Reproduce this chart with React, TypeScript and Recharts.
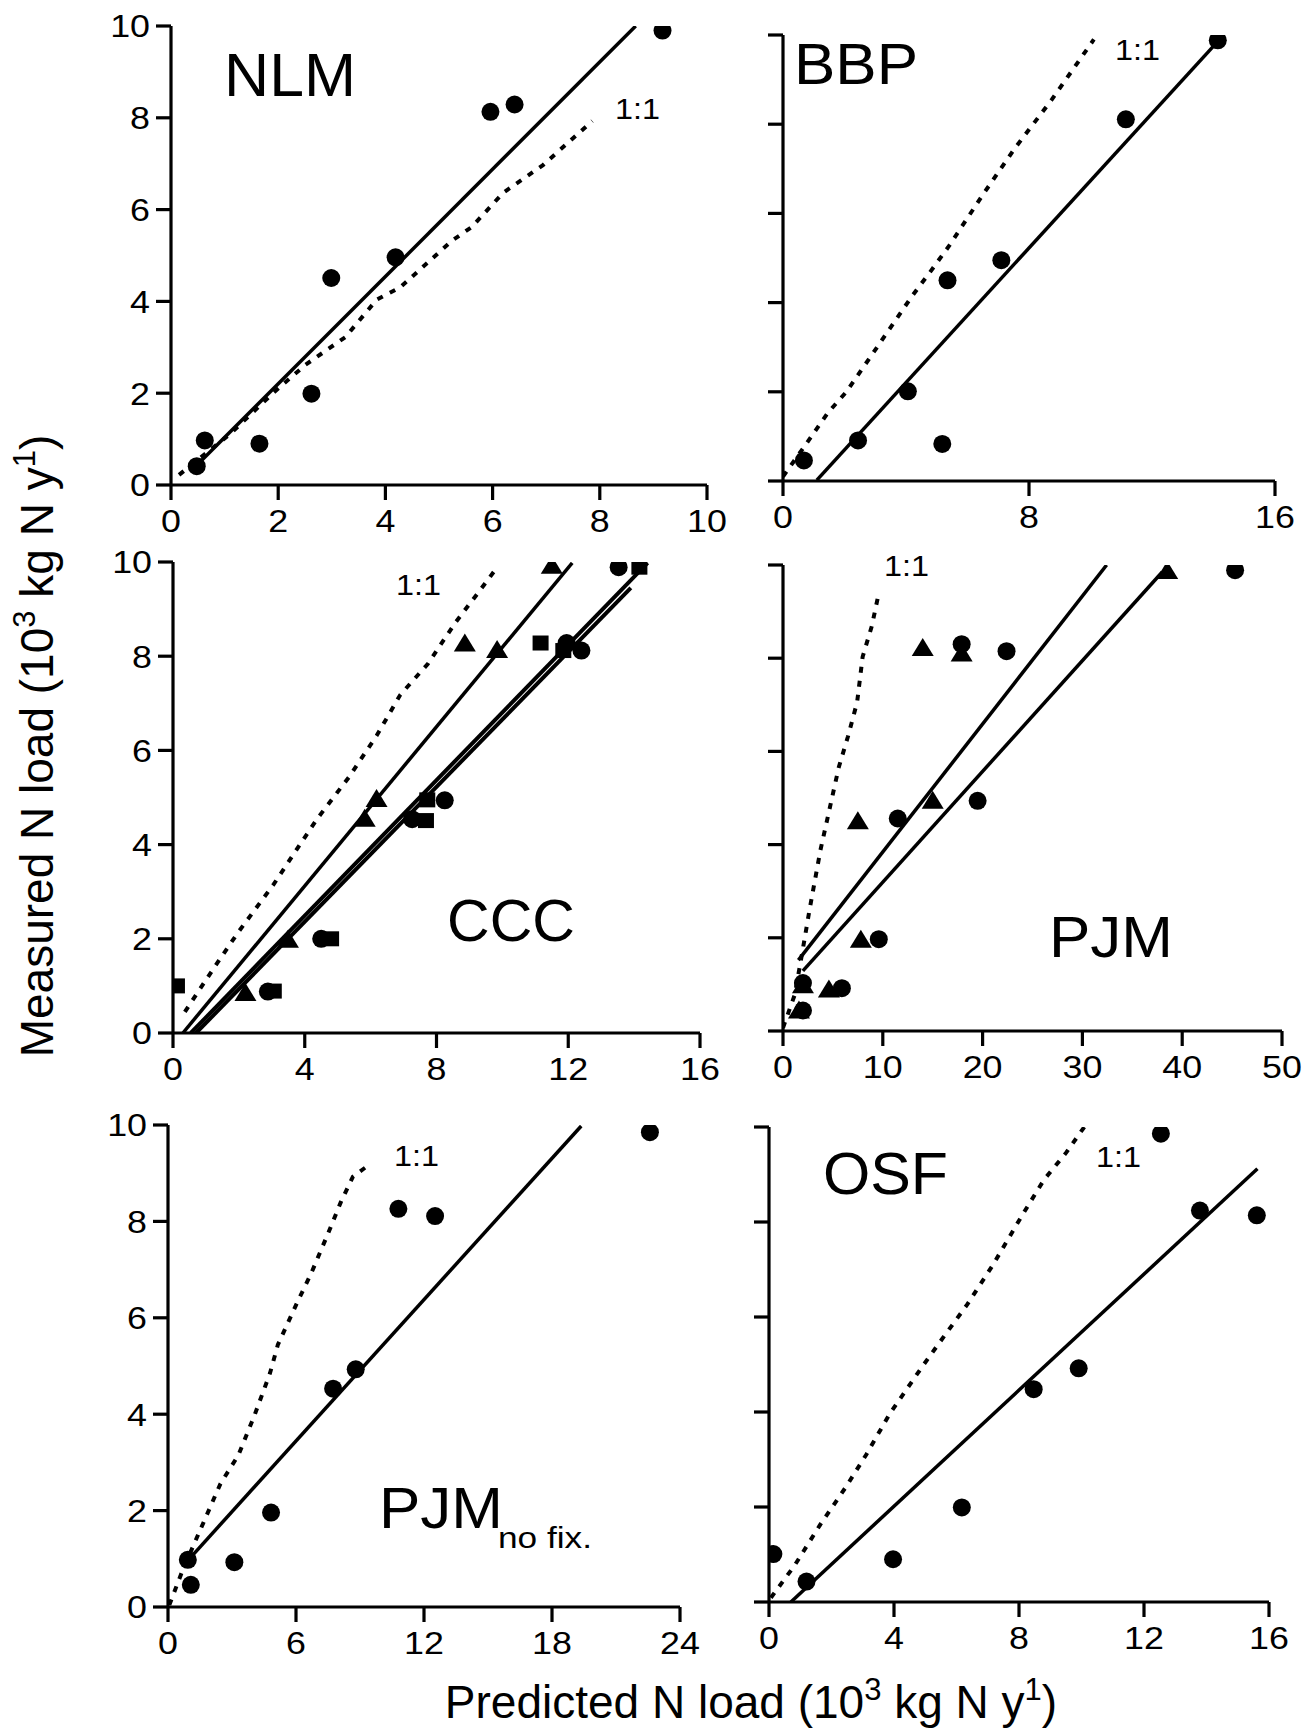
import React from "react";
import { ScatterChart, Scatter, XAxis, YAxis } from "recharts";

type Pt = { x: number; y: number };

const FONT = '"Liberation Sans", Arial, Helvetica, sans-serif';
const INK = "#000";

// ---- NLM ----
const nlmPredicted = [0.48, 0.63, 1.65, 2.62, 2.99, 4.19, 5.96, 6.41, 9.17];
const nlmMeasured = [0.41, 0.97, 0.9, 1.99, 4.51, 4.96, 8.13, 8.29, 9.9];
const nlmFitX = [0.5, 8.67];
const nlmFitY = [0.45, 10.0];
const nlmOneX = [0.15, 1.11, 1.92, 2.51, 3.25, 3.84, 4.28, 5.24, 5.61, 6.2, 6.94, 7.86];
const nlmOneY = [0.22, 1.12, 2.02, 2.62, 3.22, 4.04, 4.31, 5.32, 5.62, 6.37, 6.97, 7.93];

// ---- BBP ----
const bbpPredicted = [0.68, 2.44, 4.06, 5.18, 5.35, 7.1, 11.15, 14.14];
const bbpMeasured = [0.46, 0.91, 2.01, 0.83, 4.5, 4.95, 8.11, 9.88];
const bbpFitX = [1.1, 14.0];
const bbpFitY = [0.02, 9.75];
const bbpOneX = [0, 0.68, 1.46, 2.05, 3.13, 4.2, 4.8, 5.4, 6.47, 7.55, 8.74, 10.11];
const bbpOneY = [0.1, 0.76, 1.53, 1.99, 3.07, 4.15, 4.7, 5.27, 6.39, 7.47, 8.55, 9.9];

// ---- CCC ----
const cccTriX = [2.2, 3.49, 5.82, 6.18, 8.86, 9.84, 11.5];
const cccTriY = [0.85, 1.98, 4.55, 4.97, 8.27, 8.13, 9.92];
const cccDotX = [2.88, 4.5, 7.26, 8.25, 11.95, 12.4, 13.53];
const cccDotY = [0.88, 2.0, 4.54, 4.94, 8.28, 8.12, 9.89];
const cccSqX = [0.12, 3.06, 4.8, 7.68, 7.72, 11.16, 11.85, 14.16];
const cccSqY = [1.0, 0.89, 2.0, 4.51, 4.95, 8.28, 8.12, 9.89];
const cccTriFitX = [0.3, 12.12];
const cccTriFitY = [0, 9.98];
const cccFitAX = [0.54, 14.41];
const cccFitAY = [0, 9.98];
const cccFitBX = [0.7, 13.9];
const cccFitBY = [0, 9.45];
const cccOneX = [0.36, 1.26, 1.98, 3.06, 3.54, 4.38, 5.34, 6.18, 6.9, 7.74, 8.58, 9.3, 9.78];
const cccOneY = [0.45, 1.4, 2.14, 3.16, 3.67, 4.55, 5.43, 6.31, 7.18, 7.84, 8.72, 9.38, 9.83];

// ---- PJM ----
const pjmTriX = [1.6, 2.0, 4.6, 7.8, 7.5, 15.0, 14.0, 17.9, 38.5];
const pjmTriY = [0.44, 0.98, 0.89, 1.96, 4.5, 4.94, 8.22, 8.1, 9.87];
const pjmDotX = [2.0, 2.0, 5.9, 9.6, 11.5, 19.5, 17.9, 22.4, 45.3];
const pjmDotY = [0.44, 1.03, 0.92, 1.97, 4.56, 4.94, 8.3, 8.15, 9.89];
const pjmFit1X = [1.54, 32.43];
const pjmFit1Y = [1.52, 10.0];
const pjmFit2X = [1.99, 38.0];
const pjmFit2Y = [1.29, 9.85];
const pjmOneX = [0, 1.18, 1.91, 2.65, 3.75, 4.67, 5.59, 6.51, 7.43, 7.98, 8.9, 9.63];
const pjmOneY = [0.07, 0.78, 1.66, 2.59, 3.88, 4.77, 5.66, 6.32, 7.06, 8.03, 8.69, 9.43];

// ---- PJM no fix. ----
const pnfPredicted = [0.93, 1.07, 3.11, 4.83, 7.74, 8.8, 10.8, 12.52, 22.59];
const pnfMeasured = [0.98, 0.46, 0.93, 1.96, 4.53, 4.93, 8.26, 8.11, 9.85];
const pnfFitX = [1.0, 19.37];
const pnfFitY = [1.0, 9.98];
const pnfOneX = [0.06, 0.7, 1.72, 2.46, 3.3, 4.04, 4.78, 5.15, 6.07, 6.72, 7.56, 8.11, 8.67, 9.35];
const pnfOneY = [0.04, 0.78, 1.81, 2.56, 3.15, 3.96, 4.85, 5.44, 6.33, 6.93, 7.81, 8.41, 8.93, 9.15];

// ---- OSF ----
const osfPredicted = [0.14, 1.2, 3.97, 6.17, 8.47, 9.91, 12.54, 13.79, 15.61];
const osfMeasured = [1.01, 0.43, 0.9, 1.99, 4.48, 4.92, 9.86, 8.24, 8.14];
const osfFitX = [0.7, 15.63];
const osfFitY = [0, 9.12];
const osfOneX = [0.06, 0.82, 1.64, 2.46, 3.11, 3.87, 4.93, 5.63, 6.34, 7.16, 8.1, 8.8, 9.51, 10.09];
const osfOneY = [0.09, 0.77, 1.63, 2.42, 3.1, 3.97, 4.98, 5.62, 6.26, 7.09, 8.14, 8.89, 9.46, 10.0];

// ---- ticks ----
const yTicks = [0, 2, 4, 6, 8, 10];
const nlmXTicks = [0, 2, 4, 6, 8, 10];
const bbpXTicks = [0, 8, 16];
const cccXTicks = [0, 4, 8, 12, 16];
const pjmXTicks = [0, 10, 20, 30, 40, 50];
const pnfXTicks = [0, 6, 12, 18, 24];
const osfXTicks = [0, 4, 8, 12, 16];

const zip = (xs: number[], ys: number[]): Pt[] => xs.map((x, i) => ({ x, y: ys[i] }));

type Kind = "dot" | "tri" | "sq" | "fit" | "thick" | "one";
type Series = { kind: Kind; data: Pt[] };

const Dot = (p: any) => <circle cx={p.cx} cy={p.cy} r={9} fill={INK} />;
const Tri = (p: any) => (
  <polygon
    points={`${p.cx},${p.cy - 10} ${p.cx - 11},${p.cy + 8} ${p.cx + 11},${p.cy + 8}`}
    fill={INK}
  />
);
const Sq = (p: any) => <rect x={p.cx - 8} y={p.cy - 7.5} width={16} height={15} fill={INK} />;
const Nothing = () => <g />;

function XTick({ x, y, payload }: any) {
  return (
    <text
      transform={`translate(${x},${y}) scale(1.12,1)`}
      textAnchor="middle"
      dy="0.71em"
      fontSize={32}
      fontFamily={FONT}
      fill={INK}
    >
      {payload.value}
    </text>
  );
}

function YTick({ x, y, payload }: any) {
  return (
    <text
      transform={`translate(${x},${y}) scale(1.12,1)`}
      textAnchor="end"
      dy="0.355em"
      fontSize={32}
      fontFamily={FONT}
      fill={INK}
    >
      {payload.value}
    </text>
  );
}

interface PanelProps {
  x0: number;
  x1: number;
  y0: number;
  y1: number;
  xMax: number;
  xTicks: number[];
  yLabels: boolean;
  series: Series[];
}

const YW = 90;
const MT = 30;
const MR = 40;
const XH = 60;

function Panel({ x0, x1, y0, y1, xMax, xTicks, yLabels, series }: PanelProps) {
  const w = x1 - x0 + YW + MR;
  const h = y1 - y0 + MT + XH;
  return (
    <div style={{ position: "absolute", left: x0 - YW, top: y0 - MT, width: w, height: h }}>
      <ScatterChart width={w} height={h} margin={{ top: MT, right: MR, bottom: 0, left: 0 }}>
        <XAxis
          type="number"
          dataKey="x"
          domain={[0, xMax]}
          ticks={xTicks}
          interval={0}
          allowDataOverflow
          height={XH}
          tickSize={15}
          tickMargin={9}
          axisLine={{ stroke: INK, strokeWidth: 3.2 }}
          tickLine={{ stroke: INK, strokeWidth: 3.2 }}
          tick={<XTick />}
        />
        <YAxis
          type="number"
          dataKey="y"
          domain={[0, 10]}
          ticks={yTicks}
          interval={0}
          allowDataOverflow
          width={YW}
          tickSize={15}
          tickMargin={6}
          axisLine={{ stroke: INK, strokeWidth: 3.2 }}
          tickLine={{ stroke: INK, strokeWidth: 3.2 }}
          tick={yLabels ? <YTick /> : Nothing}
        />
        {series
          .filter((s) => s.kind === "fit" || s.kind === "thick" || s.kind === "one")
          .map((s, i) => (
            <Scatter
              key={"l" + i}
              data={s.data}
              shape={Nothing}
              line={
                s.kind === "one"
                  ? { stroke: INK, strokeWidth: 4, strokeDasharray: "6 8" }
                  : { stroke: INK, strokeWidth: s.kind === "thick" ? 4 : 3.5 }
              }
              lineType="joint"
              legendType="none"
              isAnimationActive={false}
            />
          ))}
        {series
          .filter((s) => s.kind === "dot" || s.kind === "tri" || s.kind === "sq")
          .map((s, i) => (
            <Scatter
              key={"m" + i}
              data={s.data}
              shape={s.kind === "dot" ? Dot : s.kind === "tri" ? Tri : Sq}
              legendType="none"
              isAnimationActive={false}
            />
          ))}
      </ScatterChart>
    </div>
  );
}

function Overlay() {
  const t = { fontFamily: FONT, fill: INK } as const;
  const one = { fontSize: 30, textLength: 45, lengthAdjust: "spacingAndGlyphs" as const, ...t };
  return (
    <svg
      width={1315}
      height={1729}
      style={{ position: "absolute", left: 0, top: 0, pointerEvents: "none" }}
    >
      <text x={224} y={96} fontSize={61} textLength={132} lengthAdjust="spacingAndGlyphs" {...t}>NLM</text>
      <text x={794} y={84} fontSize={58} textLength={124} lengthAdjust="spacingAndGlyphs" {...t}>BBP</text>
      <text x={447} y={941} fontSize={60} textLength={128} lengthAdjust="spacingAndGlyphs" {...t}>CCC</text>
      <text x={1049} y={957} fontSize={58} textLength={124} lengthAdjust="spacingAndGlyphs" {...t}>PJM</text>
      <text x={379} y={1528} fontSize={58} textLength={124} lengthAdjust="spacingAndGlyphs" {...t}>PJM</text>
      <text x={498} y={1548} fontSize={29} textLength={94} lengthAdjust="spacingAndGlyphs" {...t}>no fix.</text>
      <text x={823} y={1194} fontSize={60} textLength={125} lengthAdjust="spacingAndGlyphs" {...t}>OSF</text>

      <text x={615} y={119} {...one}>1:1</text>
      <text x={1115} y={60} {...one}>1:1</text>
      <text x={396} y={595} {...one}>1:1</text>
      <text x={884} y={576} {...one}>1:1</text>
      <text x={394} y={1166} {...one}>1:1</text>
      <text x={1096} y={1167} {...one}>1:1</text>

      <text
        x={0}
        y={0}
        fontSize={46}
        textAnchor="middle"
        transform="translate(53 746) rotate(-90)"
        {...t}
      >
        Measured N load (10
        <tspan dy={-18} fontSize={31}>3</tspan>
        <tspan dy={18}> kg N y</tspan>
        <tspan dy={-18} fontSize={31}>1</tspan>
        <tspan dy={18}>)</tspan>
      </text>
      <text x={751} y={1718} fontSize={46} textAnchor="middle" {...t}>
        Predicted N load (10
        <tspan dy={-18} fontSize={31}>3</tspan>
        <tspan dy={18}> kg N y</tspan>
        <tspan dy={-18} fontSize={31}>1</tspan>
        <tspan dy={18}>)</tspan>
      </text>
    </svg>
  );
}

export default function App() {
  return (
    <div
      style={{
        position: "absolute",
        left: 0,
        top: 0,
        width: 1315,
        height: 1729,
        background: "#fff",
        overflow: "hidden",
      }}
    >
      <Panel
        x0={171}
        x1={707}
        y0={26}
        y1={485}
        xMax={10}
        xTicks={nlmXTicks}
        yLabels
        series={[
          { kind: "one", data: zip(nlmOneX, nlmOneY) },
          { kind: "fit", data: zip(nlmFitX, nlmFitY) },
          { kind: "dot", data: zip(nlmPredicted, nlmMeasured) },
        ]}
      />
      <Panel
        x0={783}
        x1={1275}
        y0={35}
        y1={481}
        xMax={16}
        xTicks={bbpXTicks}
        yLabels={false}
        series={[
          { kind: "one", data: zip(bbpOneX, bbpOneY) },
          { kind: "fit", data: zip(bbpFitX, bbpFitY) },
          { kind: "dot", data: zip(bbpPredicted, bbpMeasured) },
        ]}
      />
      <Panel
        x0={173}
        x1={700}
        y0={562}
        y1={1033}
        xMax={16}
        xTicks={cccXTicks}
        yLabels
        series={[
          { kind: "one", data: zip(cccOneX, cccOneY) },
          { kind: "fit", data: zip(cccTriFitX, cccTriFitY) },
          { kind: "thick", data: zip(cccFitAX, cccFitAY) },
          { kind: "thick", data: zip(cccFitBX, cccFitBY) },
          { kind: "sq", data: zip(cccSqX, cccSqY) },
          { kind: "dot", data: zip(cccDotX, cccDotY) },
          { kind: "tri", data: zip(cccTriX, cccTriY) },
        ]}
      />
      <Panel
        x0={783}
        x1={1282}
        y0={565}
        y1={1031}
        xMax={50}
        xTicks={pjmXTicks}
        yLabels={false}
        series={[
          { kind: "one", data: zip(pjmOneX, pjmOneY) },
          { kind: "fit", data: zip(pjmFit1X, pjmFit1Y) },
          { kind: "fit", data: zip(pjmFit2X, pjmFit2Y) },
          { kind: "tri", data: zip(pjmTriX, pjmTriY) },
          { kind: "dot", data: zip(pjmDotX, pjmDotY) },
        ]}
      />
      <Panel
        x0={168}
        x1={680}
        y0={1125}
        y1={1607}
        xMax={24}
        xTicks={pnfXTicks}
        yLabels
        series={[
          { kind: "one", data: zip(pnfOneX, pnfOneY) },
          { kind: "fit", data: zip(pnfFitX, pnfFitY) },
          { kind: "dot", data: zip(pnfPredicted, pnfMeasured) },
        ]}
      />
      <Panel
        x0={769}
        x1={1269}
        y0={1127}
        y1={1602}
        xMax={16}
        xTicks={osfXTicks}
        yLabels={false}
        series={[
          { kind: "one", data: zip(osfOneX, osfOneY) },
          { kind: "fit", data: zip(osfFitX, osfFitY) },
          { kind: "dot", data: zip(osfPredicted, osfMeasured) },
        ]}
      />
      <Overlay />
    </div>
  );
}
